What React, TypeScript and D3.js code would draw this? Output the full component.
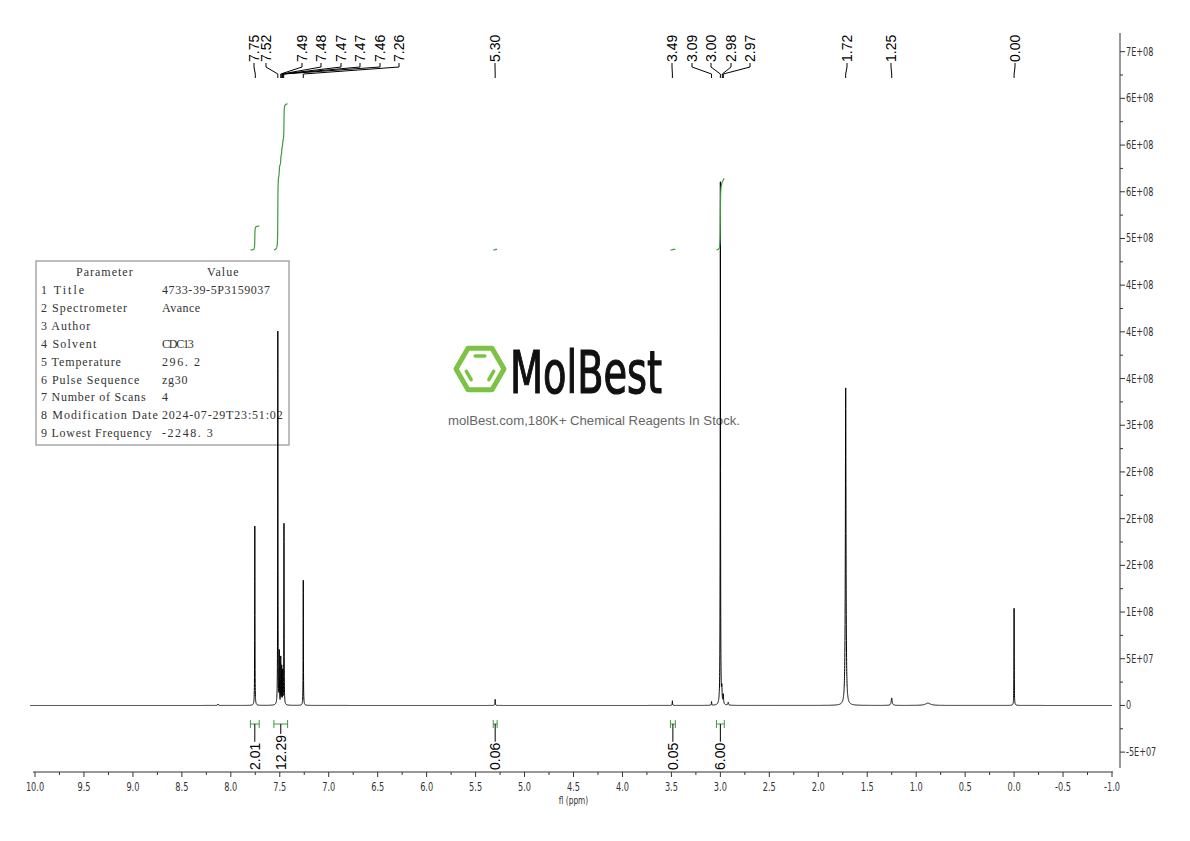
import React, { useMemo } from 'react';
import * as d3 from 'd3';

// ---------- DATA ----------
const peakPpm = [8.13, 7.755, 7.52, 7.505, 7.49, 7.48, 7.47, 7.457, 7.26, 5.30, 3.49, 3.09, 3.00, 2.985, 2.97, 2.92, 1.72, 1.25, 0.88, 0.00];
const peakHeight = [1.5e6, 1.92e8, 4.0e8, 5.5e7, 5.0e7, 4.0e7, 3.5e7, 1.94e8, 1.34e8, 6.5e6, 5.0e6, 4.0e6, 5.6e8, 1.5e7, 1.0e7, 3.0e6, 3.4e8, 8.0e6, 2.5e6, 1.04e8];
const peakHalfWidth = [0.004, 0.0015, 0.0015, 0.0015, 0.0015, 0.0015, 0.0015, 0.0015, 0.0015, 0.002, 0.002, 0.002, 0.0018, 0.003, 0.003, 0.004, 0.0038, 0.006, 0.03, 0.0015];

const peakLabels = ['7.75', '7.52', '7.49', '7.48', '7.47', '7.47', '7.46', '7.26', '5.30', '3.49', '3.09', '3.00', '2.98', '2.97', '1.72', '1.25', '0.00'];

const integralFrom = [7.80, 7.56, 5.32, 3.51, 3.04];
const integralTo = [7.71, 7.42, 5.28, 3.46, 2.96];
const integralValue = [2.01, 12.29, 0.06, 0.05, 6.00];
const integralLabels = ['2.01', '12.29', '0.06', '0.05', '6.00'];

const xTickValues = d3.range(-1, 10.001, 0.5);
const yTickValues = d3.range(-5e7, 7.001e8, 5e7);
const yTickLabels = ['-5E+07', '0', '5E+07', '1E+08', '2E+08', '2E+08', '2E+08', '3E+08', '4E+08', '4E+08', '4E+08', '5E+08', '6E+08', '6E+08', '6E+08', '7E+08'];

const tableParams = ['1 Title', '2 Spectrometer', '3 Author', '4 Solvent', '5 Temperature', '6 Pulse Sequence', '7 Number of Scans', '8 Modification Date', '9 Lowest Frequency'];
const tableValues = ['4733-39-5P3159037', 'Avance', '', 'CDC13', '296. 2', 'zg30', '4', '2024-07-29T23:51:02', '-2248. 3'];

// ---------- LAYOUT ----------
const W = 1190;
const H = 841;
const X0 = 35, X1 = 1112;
const Y_TOP = 33, Y_BOT = 768;
const AXIS_Y = 772;
const YAXIS_X = 1120;
const INT_BASE_Y = 250;
const INT_PX_PER_UNIT = 11.9;
const LABEL_X = [254, 266, 302, 321, 341, 360, 380, 399, 495, 672, 692, 711, 731, 750, 847, 891, 1015];
const GREEN = '#3f9a3f';
const NARROW = "'Liberation Sans Narrow', 'DejaVu Sans Condensed', 'Liberation Sans', sans-serif";
const SANS = "'Liberation Sans', Arial, sans-serif";
const SERIF = "'Liberation Serif', 'DejaVu Serif', serif";

function intensity(p: number) {
  let s = 0;
  for (let i = 0; i < peakPpm.length; i++) {
    const d = (p - peakPpm[i]) / peakHalfWidth[i];
    s += peakHeight[i] / (1 + d * d);
  }
  return s;
}

function digitWidth(s: string, fs: number) {
  let w = 0;
  for (const c of s) w += c === '.' ? 0.278 * fs : 0.556 * fs;
  return w;
}

export default function App() {
  const x = d3.scaleLinear().domain([10.0, -1.0]).range([X0, X1]);
  const y = d3.scaleLinear().domain([-6.7e7, 7.2e8]).range([Y_BOT, Y_TOP]);

  const grid = useMemo(() => {
    const g = d3.range(10.05, -1.0, -0.0005).concat(peakPpm);
    g.sort((a, b) => b - a);
    return g.map((p) => [p, intensity(p)] as [number, number]);
  }, []);

  const line = d3.line<[number, number]>().x((d) => x(d[0])).y((d) => y(d[1]));
  const specPath = line(grid) || '';

  const integralPaths = integralFrom.map((from, k) => {
    const to = integralTo[k];
    const pts = grid.filter((d) => d[0] <= from && d[0] >= to);
    const cum: number[] = [0];
    for (let i = 1; i < pts.length; i++) {
      cum.push(cum[i - 1] + ((pts[i - 1][1] + pts[i][1]) / 2) * (pts[i - 1][0] - pts[i][0]));
    }
    const total = cum[cum.length - 1] || 1;
    const h = integralValue[k] * INT_PX_PER_UNIT;
    const l = d3.line<number>().x((_, i) => x(pts[i][0])).y((c) => INT_BASE_Y - (c / total) * h);
    return l(cum) || '';
  });

  const minorX = d3.range(-0.75, 10.0, 0.5);
  const minorY = d3.range(-2.5e7, 7.2e8, 5e7);

  const hexR = 24;
  const hexPts = d3.range(6).map((i) => {
    const a = (Math.PI / 3) * i;
    return [480 + hexR * Math.cos(a), 369 + hexR * Math.sin(a)];
  });
  const innerR = 15;
  const inner = d3.range(6).map((i) => {
    const a = (Math.PI / 3) * i;
    return [480 + innerR * Math.cos(a), 369 + innerR * Math.sin(a)];
  });
  const innerEdge = (a: number[], b: number[]) => {
    const s = 0.18;
    return `M${a[0] + (b[0] - a[0]) * s},${a[1] + (b[1] - a[1]) * s}L${a[0] + (b[0] - a[0]) * (1 - s)},${a[1] + (b[1] - a[1]) * (1 - s)}`;
  };

  return (
    <svg width={W} height={H} style={{ position: 'absolute', left: 0, top: 0, background: '#fff' }}>
      <rect x={0} y={0} width={W} height={H} fill="#fff" />

      {/* parameter table */}
      <rect x={36} y={261} width={253} height={184} fill="#fff" stroke="#a8a8a8" strokeWidth={1.5} />
      <g fontFamily={SERIF} fontSize={12} fill="#333">
        <text x={76} y={276} textLength={9 * 6.3} lengthAdjust="spacing">Parameter</text>
        <text x={207} y={276} textLength={5 * 6.3} lengthAdjust="spacing">Value</text>
        {tableParams.map((p, i) => (
          <text key={p} x={41} y={294 + i * 17.9} textLength={p.length * 6.15} lengthAdjust="spacing">{p}</text>
        ))}
        {tableValues.map((v, i) =>
          v ? (
            <text key={'v' + i} x={162} y={294 + i * 17.9} textLength={v.length * 6.35} lengthAdjust="spacing">{v}</text>
          ) : null
        )}
      </g>

      {/* watermark */}
      <g>
        <polygon points={hexPts.map((p) => p.join(',')).join(' ')} fill="none" stroke="#7cc243" strokeWidth={5} strokeLinejoin="round" />
        <path d={innerEdge(inner[4], inner[5])} stroke="#7cc243" strokeWidth={3.5} strokeLinecap="round" />
        <path d={innerEdge(inner[2], inner[3])} stroke="#7cc243" strokeWidth={3.5} strokeLinecap="round" />
        <path d={innerEdge(inner[0], inner[1])} stroke="#7cc243" strokeWidth={3.5} strokeLinecap="round" />
        <text x={510} y={393} fontFamily={NARROW} fontSize={58} fill="#111" stroke="#111" strokeWidth={1.2} textLength={152} lengthAdjust="spacingAndGlyphs">MolBest</text>
        <text x={594} y={425} fontFamily={SANS} fontSize={13} fill="#666" textAnchor="middle" textLength={292} lengthAdjust="spacingAndGlyphs">molBest.com,180K+ Chemical Reagents In Stock.</text>
      </g>

      {/* spectrum */}
      <path d={specPath} fill="none" stroke="#000" strokeWidth={1} />

      {/* integral curves */}
      {integralPaths.map((d, i) => (
        <path key={'ip' + i} d={d} fill="none" stroke={GREEN} strokeWidth={1.2} />
      ))}

      {/* integral brackets and labels */}
      {integralFrom.map((from, k) => {
        const xa = x(from), xb = x(integralTo[k]);
        const cx = (xa + xb) / 2;
        const by = 724;
        const tw = digitWidth(integralLabels[k], 14);
        return (
          <g key={'ib' + k}>
            <line x1={xa} x2={xb} y1={by} y2={by} stroke={GREEN} strokeWidth={1} />
            <line x1={xa} x2={xa} y1={by - 4} y2={by + 4} stroke={GREEN} strokeWidth={1} />
            <line x1={xb} x2={xb} y1={by - 4} y2={by + 4} stroke={GREEN} strokeWidth={1} />
            <line x1={cx} x2={cx} y1={by} y2={770 - tw - 1} stroke="#000" strokeWidth={1} />
            <text transform={`translate(${cx},770) rotate(-90)`} fontFamily={SANS} fontSize={14} fill="#000" dominantBaseline="central">{integralLabels[k]}</text>
          </g>
        );
      })}

      {/* peak labels */}
      {peakLabels.map((lab, i) => {
        const lx = LABEL_X[i];
        const px = x(parseFloat(lab));
        return (
          <g key={'pl' + i}>
            <path d={`M${lx},63L${lx},67L${px},74L${px},78`} fill="none" stroke="#000" strokeWidth={1} />
            <text transform={`translate(${lx},62) rotate(-90)`} fontFamily={SANS} fontSize={14} fill="#000" dominantBaseline="central">{lab}</text>
          </g>
        );
      })}

      {/* x axis */}
      <line x1={X0 - 2} x2={X1 + 1} y1={AXIS_Y} y2={AXIS_Y} stroke="#333" strokeWidth={1} />
      {xTickValues.map((v) => (
        <g key={'xt' + v}>
          <line x1={x(v)} x2={x(v)} y1={AXIS_Y} y2={AXIS_Y + 5} stroke="#333" />
          <g transform={`translate(${x(v)},${AXIS_Y + 19}) scale(0.7,1)`}>
            <text textAnchor="middle" fontFamily={NARROW} fontSize={13} fill="#333">{v.toFixed(1)}</text>
          </g>
        </g>
      ))}
      {minorX.map((v) => (
        <line key={'xm' + v} x1={x(v)} x2={x(v)} y1={AXIS_Y} y2={AXIS_Y + 3} stroke="#333" />
      ))}
      <g transform={`translate(${x(4.5)},804) scale(0.75,1)`}>
        <text textAnchor="middle" fontFamily={NARROW} fontSize={11} fill="#333">fl (ppm)</text>
      </g>

      {/* y axis */}
      <line x1={YAXIS_X} x2={YAXIS_X} y1={Y_TOP} y2={Y_BOT} stroke="#333" strokeWidth={1} />
      {yTickValues.map((v, i) => (
        <g key={'yt' + i}>
          <line x1={YAXIS_X} x2={YAXIS_X + 5} y1={y(v)} y2={y(v)} stroke="#333" />
          <g transform={`translate(${YAXIS_X + 6},${y(v) + 4}) scale(0.72,1)`}>
            <text fontFamily={NARROW} fontSize={12.5} fill="#333">{yTickLabels[i]}</text>
          </g>
        </g>
      ))}
      {minorY.map((v, i) => (
        <line key={'ym' + i} x1={YAXIS_X} x2={YAXIS_X + 3} y1={y(v)} y2={y(v)} stroke="#333" />
      ))}
    </svg>
  );
}
